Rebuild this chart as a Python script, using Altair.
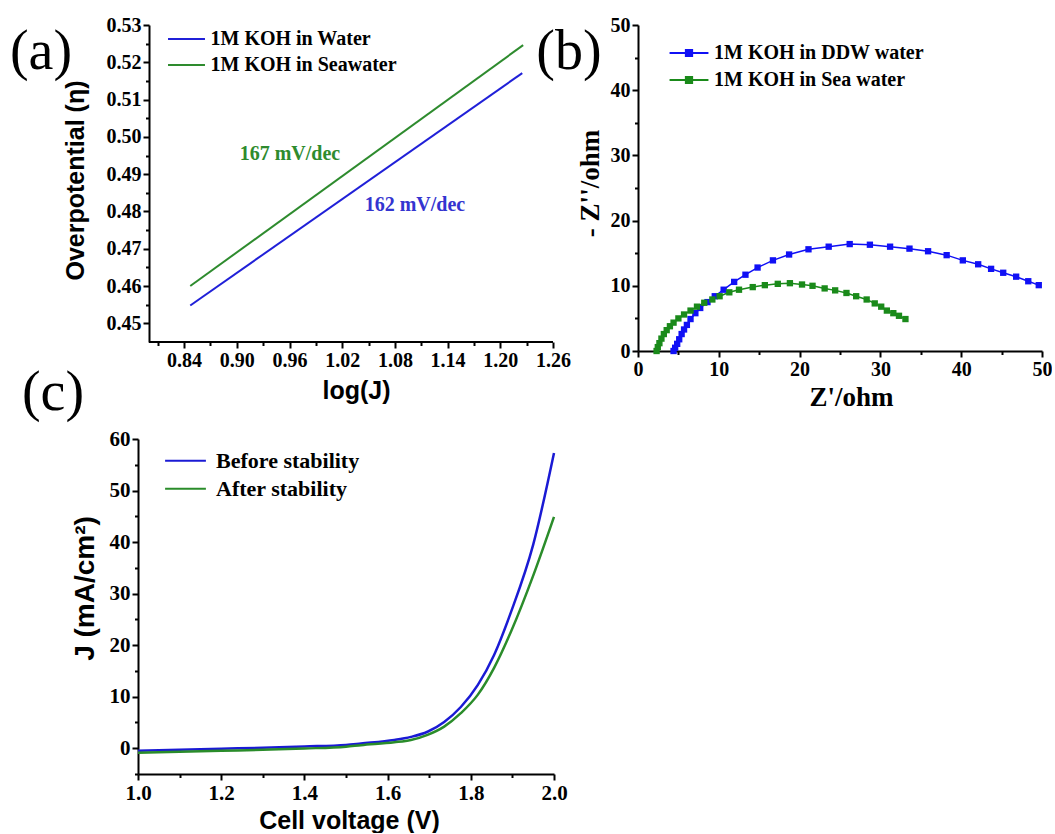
import altair as alt
import pandas as pd

SERIF = "Liberation Serif"
SANS = "Liberation Sans"

# ---------------- (a) Tafel plot ----------------
A_SERIES = ["1M KOH in Water", "1M KOH in Seawater"]
A_COLORS = ["#2020d8", "#2e8b2e"]
A_LOGJ_WATER = [0.847, 1.225]
A_ETA_WATER = [0.4548, 0.5171]
A_LOGJ_SEA = [0.847, 1.226]
A_ETA_SEA = [0.4600, 0.5246]
A_NOTES = ["167 mV/dec", "162 mV/dec"]
A_NOTE_X = [0.9605, 1.1028]
A_NOTE_Y = [0.4953, 0.4817]
A_NOTE_COLORS = ["#2e8b2e", "#3434d0"]
A_X_RANGE = [0.80, 1.26]          # extent of the drawn x axis line
A_Y_MIN = 0.445
A_X_TICKS = [0.81, 0.84, 0.87, 0.90, 0.93, 0.96, 0.99, 1.02, 1.05, 1.08,
             1.11, 1.14, 1.17, 1.20, 1.23, 1.26]
A_Y_TICKS = [0.45, 0.455, 0.46, 0.465, 0.47, 0.475, 0.48, 0.485, 0.49,
             0.495, 0.50, 0.505, 0.51, 0.515, 0.52, 0.525, 0.53]

# ---------------- (b) Nyquist plot ----------------
B_SERIES = ["1M KOH in DDW water", "1M KOH in Sea water"]
B_COLORS = ["#1010f5", "#1a8a1a"]
B_DDW_ZRE = [4.4, 4.6, 4.85, 5.1, 5.4, 5.7, 6.05, 6.5, 7.1, 7.7, 8.6, 9.5, 10.6,
             11.9, 13.3, 14.8, 16.7, 18.7, 21.1, 23.6, 26.2, 28.7, 31.2, 33.6,
             35.9, 38.2, 40.2, 42.1, 43.7, 45.2, 46.8, 48.3, 49.6]
B_DDW_ZIM = [0.0, 0.5, 1.1, 1.8, 2.6, 3.3, 4.0, 4.9, 5.8, 6.6, 7.5, 8.4, 9.4,
             10.6, 11.7, 12.8, 13.9, 14.8, 15.6, 16.0, 16.4, 16.3, 16.0, 15.7,
             15.3, 14.7, 13.9, 13.3, 12.6, 12.0, 11.4, 10.7, 10.1]
B_SEA_ZRE = [2.3, 2.45, 2.65, 2.9, 3.2, 3.55, 3.95, 4.4, 5.0, 5.7, 6.5, 7.3, 8.2,
             9.2, 10.1, 11.3, 12.5, 14.2, 15.7, 17.3, 18.8, 20.3, 21.6, 23.1,
             24.4, 25.8, 27.0, 28.3, 29.3, 30.1, 30.8, 31.6, 32.3, 33.1]
B_SEA_ZIM = [0.0, 0.6, 1.2, 1.9, 2.6, 3.2, 3.8, 4.35, 5.0, 5.6, 6.2, 6.8, 7.4,
             7.9, 8.4, 9.0, 9.4, 9.8, 10.1, 10.3, 10.4, 10.2, 10.0, 9.6, 9.3,
             8.9, 8.4, 7.9, 7.3, 6.8, 6.2, 5.8, 5.4, 4.9]
B_TICKS = [0, 5, 10, 15, 20, 25, 30, 35, 40, 45, 50]

# ---------------- (c) polarization ----------------
C_SERIES = ["Before stability", "After stability"]
C_COLORS = ["#1a1ad4", "#2a8c2a"]
C_V = [1.0, 1.1, 1.2, 1.3, 1.4, 1.5, 1.536, 1.616, 1.656, 1.696, 1.736,
       1.776, 1.817, 1.856, 1.897, 1.95, 2.0]
C_J_BEFORE = [-0.5, -0.3, -0.1, 0.1, 0.35, 0.65, 0.93, 1.6, 2.2, 3.2, 5.1,
              8.0, 12.3, 18.1, 26.5, 39.5, 57.3]
C_J_AFTER = [-0.9, -0.7, -0.5, -0.3, -0.05, 0.3, 0.6, 1.15, 1.6, 2.6, 4.2,
             6.8, 10.4, 15.6, 22.7, 33.5, 44.9]
C_X_TICKS = [1.0, 1.1, 1.2, 1.3, 1.4, 1.5, 1.6, 1.7, 1.8, 1.9, 2.0]
C_Y_TICKS = [-5, 0, 5, 10, 15, 20, 25, 30, 35, 40, 45, 50, 55, 60]


def make_axis(values, major, fmt, title, tx, ty, tfont, tsize, lsize, **extra):
    return alt.Axis(
        values=values,
        labelExpr=f"({major}) ? format(datum.value, '{fmt}') : ''",
        labelFontSize=lsize, labelFontWeight="bold", labelFont=SERIF,
        tickSize={"condition": {"test": major, "value": 6}, "value": 3.5},
        tickWidth=2, tickColor="black",
        domainColor="black", domainWidth=2, grid=False,
        labelColor="black", labelFlush=False, labelOverlap=False, labelPadding=2,
        title=title, titleX=tx, titleY=ty, titleFont=tfont, titleFontSize=tsize,
        titleFontWeight="bold", titleColor="black", titleAlign="center",
        titleBaseline="alphabetic", **extra,
    )


def make_legend(x, y, path, lsize, loff, rowpad):
    return alt.Legend(
        title=None, orient="none", legendX=x, legendY=y, symbolType=path,
        symbolSize=576, symbolStrokeWidth=2, symbolOpacity=1,
        labelFont=SERIF, labelFontWeight="bold", labelFontSize=lsize,
        labelColor="black", labelOffset=loff, rowPadding=rowpad, padding=0,
        labelLimit=500,
    )


def panel_label(txt, dx, dy):
    return alt.Chart(pd.DataFrame({"t": [txt]})).mark_text(
        font=SERIF, fontSize=56, align="center", baseline="alphabetic", color="black"
    ).encode(x=alt.value(dx), y=alt.value(dy), text="t:N")


# ---------- panel (a) ----------
a_df = pd.DataFrame({
    "logJ": A_LOGJ_WATER + A_LOGJ_SEA,
    "eta": A_ETA_WATER + A_ETA_SEA,
    "series": [A_SERIES[0]] * len(A_LOGJ_WATER) + [A_SERIES[1]] * len(A_LOGJ_SEA),
})
a_x = alt.X("logJ:Q", scale=alt.Scale(domain=[0.7875, 1.26], nice=False, zero=False),
            axis=make_axis(A_X_TICKS,
                           "abs((datum.value - 0.84) / 0.06 - round((datum.value - 0.84) / 0.06)) < 0.1",
                           ".2f", "log(J)", 218, 56, SANS, 25, 20, domain=False))
a_y = alt.Y("eta:Q", scale=alt.Scale(domain=[A_Y_MIN, 0.53], nice=False, zero=False),
            axis=make_axis(A_Y_TICKS,
                           "abs(datum.value * 100 - round(datum.value * 100)) < 0.1",
                           ".2f", "Overpotential (η)", -66, 155, SANS, 25, 20, offset=-11))
a_lines = alt.Chart(a_df).mark_line(strokeWidth=2).encode(
    x=a_x, y=a_y,
    color=alt.Color("series:N", scale=alt.Scale(domain=A_SERIES, range=A_COLORS),
                    legend=make_legend(35.5, 1, "M-1.54,0H1.54", 20, 11, 3)),
)
a_axisline = alt.Chart(pd.DataFrame({"logJ": [A_X_RANGE[0]], "logJ2": [A_X_RANGE[1]],
                                     "eta": [A_Y_MIN]})).mark_rule(
    color="black", strokeWidth=2).encode(x=a_x, x2="logJ2:Q", y=a_y)
a_layers = [a_axisline, a_lines]
for t, x, y, c in zip(A_NOTES, A_NOTE_X, A_NOTE_Y, A_NOTE_COLORS):
    a_layers.append(
        alt.Chart(pd.DataFrame({"logJ": [x], "eta": [y], "t": [t]})).mark_text(
            font=SERIF, fontWeight="bold", fontSize=20, color=c, align="center", baseline="middle"
        ).encode(x=a_x, y=a_y, text="t:N")
    )
a_layers.append(panel_label("(a)", -97, 44))
panel_a = alt.layer(*a_layers).properties(width=415, height=317)

# ---------- panel (b) ----------
b_df = pd.DataFrame({
    "zre": B_DDW_ZRE + B_SEA_ZRE,
    "zim": B_DDW_ZIM + B_SEA_ZIM,
    "series": [B_SERIES[0]] * len(B_DDW_ZRE) + [B_SERIES[1]] * len(B_SEA_ZRE),
    "ord": list(range(len(B_DDW_ZRE))) + list(range(len(B_SEA_ZRE))),
})
b_legend = make_legend(38, 15, "M-1.62,0H1.62M-0.26,-0.26H0.26V0.26H-0.26Z", 20, 12, 4)
b_color = alt.Color("series:N", scale=alt.Scale(domain=B_SERIES, range=B_COLORS), legend=b_legend)
b_x = alt.X("zre:Q", scale=alt.Scale(domain=[0, 50], nice=False),
            axis=make_axis(B_TICKS, "datum.value % 10 == 0", "d", "Z'/ohm", 213, 54, SERIF, 27, 20))
b_y = alt.Y("zim:Q", scale=alt.Scale(domain=[0, 50], nice=False),
            axis=make_axis(B_TICKS, "datum.value % 10 == 0", "d", "- Z''/ohm", -40, 158, SERIF, 27, 20))
b_line = alt.Chart(b_df).mark_line(strokeWidth=1.5).encode(x=b_x, y=b_y, color=b_color, order="ord:Q")
b_pts = alt.Chart(b_df).mark_point(shape="square", filled=True, size=40, opacity=1).encode(
    x=b_x, y=b_y, color=b_color)
panel_b = alt.layer(b_line, b_pts, panel_label("(b)", -69, 44)).properties(width=404, height=326)

# ---------- panel (c) ----------
c_df = pd.DataFrame({
    "V": C_V + C_V,
    "J": C_J_BEFORE + C_J_AFTER,
    "series": [C_SERIES[0]] * len(C_V) + [C_SERIES[1]] * len(C_V),
})
c_lines = alt.Chart(c_df).mark_line(strokeWidth=2.5, interpolate="monotone").encode(
    x=alt.X("V:Q", scale=alt.Scale(domain=[1.0, 2.0], nice=False, zero=False),
            axis=make_axis(C_X_TICKS, "abs(datum.value * 5 - round(datum.value * 5)) < 0.1", ".1f",
                           "Cell voltage (V)", 211, 54, SANS, 25, 21)),
    y=alt.Y("J:Q", scale=alt.Scale(domain=[-5, 60], nice=False),
            axis=make_axis(C_Y_TICKS, "datum.value % 10 == 0", "d", "J (mA/cm²)", -45, 149,
                           SANS, 28, 21)),
    color=alt.Color("series:N", scale=alt.Scale(domain=C_SERIES, range=C_COLORS),
                    legend=make_legend(34.5, 8.7, "M-1.7,0H1.7", 22, 17.5, 4)),
)
panel_c = alt.layer(c_lines, panel_label("(c)", -85, -29)).properties(width=416, height=335)

# ---------- layout ----------
chart = alt.concat(
    panel_a, panel_b, panel_c,
    columns=2, spacing={"row": 88, "column": 84}, bounds="flush",
).resolve_scale(
    color="independent", x="independent", y="independent"
).properties(
    padding={"left": 9, "top": 15, "right": 0, "bottom": 0},
    background="white",
).configure_view(strokeWidth=0).configure_axis(
    labelFont=SERIF, labelFontWeight="bold", labelColor="black"
)

chart.save("out.html", embed_options={"renderer": "svg", "actions": False})
